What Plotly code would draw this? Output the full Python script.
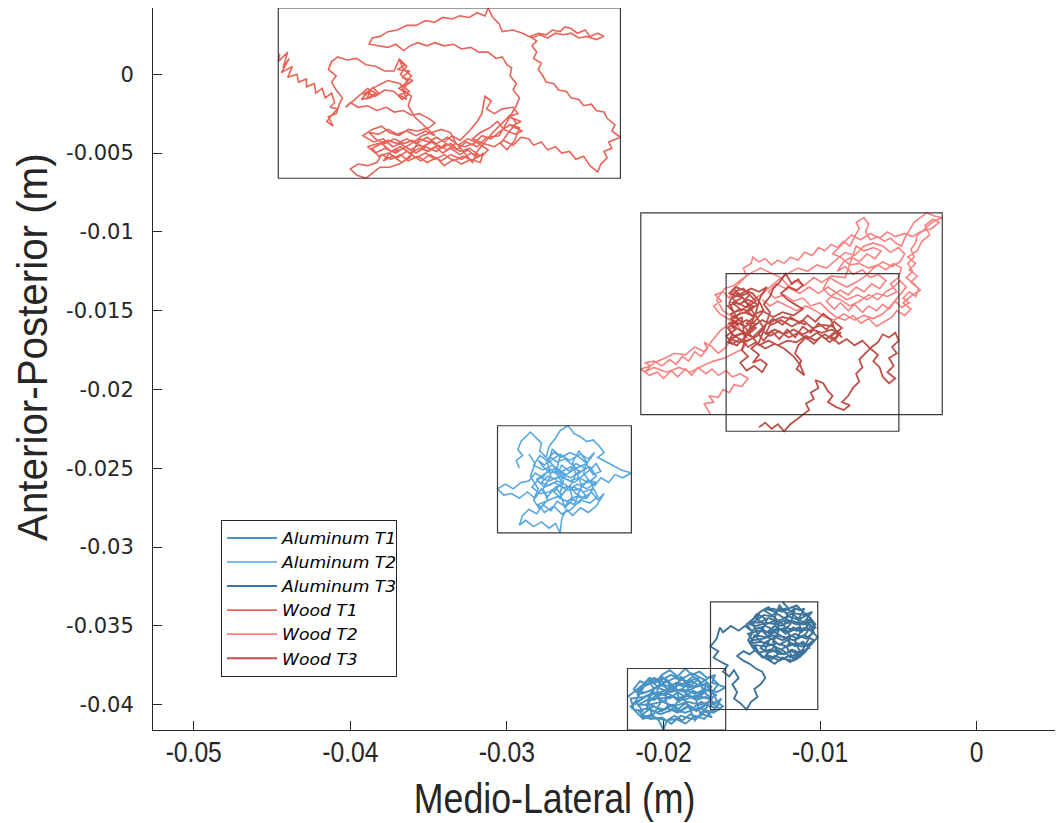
import plotly.graph_objects as go

# Centre-of-pressure traces, in millimetres (x = medio-lateral, y = anterior-posterior)
al_t1 = [(-22.3,-39.5),(-21.8,-39.1),(-21.4,-38.8),(-21.0,-38.4),(-20.5,-38.6),(-20.1,-38.1),(-19.6,-37.8),(-19.1,-38.2),(-18.6,-37.7),(-18.2,-38.1),(-17.7,-37.9),(-17.2,-38.3),(-16.7,-38.1),(-16.9,-38.6),(-16.03,-38.9),(-16.6,-39.2),(-17.1,-39.0),(-17.6,-39.4),(-18.1,-39.1),(-18.6,-39.5),(-19.1,-39.2),(-19.6,-39.6),(-20.1,-39.3),(-20.6,-39.7),(-21.1,-39.4),(-21.6,-39.8),(-22.1,-40.1),(-21.7,-40.5),(-21.3,-40.9),(-20.8,-40.6),(-20.3,-41.0),(-20.0,-41.6),(-19.8,-41.0),(-19.3,-40.7),(-18.8,-41.0),(-18.3,-40.6),(-17.8,-40.8),(-17.3,-40.4),(-16.8,-40.5),(-16.2,-40.1),(-16.6,-39.8),(-17.1,-40.1),(-17.6,-39.8),(-18.1,-40.2),(-18.6,-39.9),(-19.1,-40.3),(-19.6,-40.0),(-20.1,-40.4),(-20.6,-40.1),(-21.1,-40.3),(-20.7,-39.0),(-20.2,-38.7),(-19.7,-39.0),(-19.2,-38.6),(-18.7,-38.9),(-18.2,-38.5),(-17.7,-38.8),(-17.2,-38.6),(-17.5,-39.2),(-18.0,-39.6),(-18.5,-39.3),(-19.0,-39.8),(-19.5,-39.4),(-20.0,-39.8),(-20.5,-39.4),(-21.0,-39.9),(-20.4,-40.2),(-19.9,-40.3),(-19.4,-40.0),(-18.9,-40.4),(-18.4,-40.1),(-17.9,-40.4),(-17.4,-40.1),(-16.9,-39.6),(-17.3,-39.3),(-17.8,-38.4),(-18.3,-38.8),(-18.8,-38.3),(-19.3,-38.9),(-19.8,-38.4),(-20.3,-38.9),(-20.8,-38.5),(-21.3,-38.9),(-21.7,-39.4),
 (-20.9,-38.3),(-20.3,-38.5),(-19.5,-38.1),(-18.9,-38.4),(-18.2,-38.0),(-17.4,-38.4),(-16.9,-38.9),(-17.6,-38.7),(-18.4,-38.9),(-19.0,-38.6),(-19.8,-38.8),(-20.5,-38.5),(-21.2,-38.8),(-21.8,-39.2),(-21.1,-39.2),(-20.4,-38.9),(-19.6,-39.2),(-18.8,-39.0),(-18.0,-39.3),(-17.3,-39.0),(-16.6,-39.4),(-17.2,-39.6),(-17.9,-39.4),(-18.7,-39.7),(-19.4,-39.5),(-20.2,-39.6),(-20.9,-39.6),(-21.6,-40.0),(-20.9,-40.0),(-20.1,-39.8),(-19.3,-40.1),(-18.5,-39.8),(-17.7,-40.0),(-17.0,-39.8),(-16.4,-40.3),(-17.1,-40.4),(-17.8,-40.2),(-18.6,-40.5),(-19.4,-40.3),(-20.2,-40.6),(-20.9,-40.3),(-21.5,-40.7),(-20.8,-40.9),(-20.1,-40.8),(-19.5,-41.2),(-18.9,-40.7),(-18.2,-40.9),(-17.5,-40.6),(-16.9,-40.8),(-17.4,-40.3),
 (-18.0,-41.0),(-18.3,-40.3),(-18.7,-39.6),(-18.4,-38.9),(-18.9,-38.2),(-19.2,-38.9),(-19.0,-39.7),(-19.6,-40.4),(-19.9,-39.6),(-19.6,-38.7),(-20.1,-38.2),(-20.4,-39.1),(-20.2,-39.9),(-20.7,-40.7),(-21.0,-39.8),(-20.6,-39.0),(-21.0,-38.4),(-21.4,-39.1),(-21.8,-39.8),(-21.3,-40.4),(-21.9,-40.3),(-22.1,-39.6),(-21.2,-39.5),(-19.9,-39.1),(-18.6,-38.6),(-17.8,-38.3),(-17.5,-39.0),(-17.9,-39.8),(-17.6,-40.7),(-17.2,-40.1),(-16.9,-39.2),(-16.5,-38.7),
 (-17.0,-38.2),(-17.6,-38.6),(-18.1,-38.2),(-18.5,-38.5),(-19.3,-38.3),(-19.9,-38.6),(-20.6,-38.3),(-21.0,-38.7),(-21.5,-38.5),(-21.9,-39.0),(-21.4,-39.3),(-20.8,-39.1),(-20.3,-39.4),(-19.7,-39.3),(-19.1,-39.6),(-18.5,-39.4),(-17.9,-39.7),(-17.3,-39.5),(-16.7,-39.9),(-16.3,-39.6),(-16.7,-40.2),(-17.3,-40.0),(-17.9,-40.3),(-18.5,-40.1),(-19.1,-40.5),(-19.8,-40.2),(-20.4,-40.5),(-21.0,-40.2),(-21.6,-40.4),(-21.2,-40.7),(-20.5,-40.8),(-19.9,-41.0),(-19.2,-40.9),(-18.6,-41.2),(-18.0,-40.7),(-17.4,-40.9),(-16.9,-40.4),(-16.5,-40.0),(-16.9,-39.1),(-17.4,-38.7),(-18.0,-38.9),(-18.6,-39.2),(-19.3,-39.0),(-20.0,-39.3),(-20.7,-39.2),(-21.3,-39.6),(-21.9,-39.9),(-22.0,-40.3)]

al_t2 = [(-29.2,-25.0),(-29.4,-24.5),(-29.0,-24.2),(-29.3,-23.8),(-29.1,-23.3),(-28.8,-23.0),(-28.5,-22.7),(-28.2,-23.0),(-27.8,-23.4),(-27.9,-23.9),(-27.5,-24.3),(-27.3,-23.6),(-26.9,-23.1),(-26.6,-22.6),(-26.1,-22.3),(-25.7,-22.8),(-25.3,-23.0),(-24.9,-23.3),(-24.5,-23.2),(-24.1,-23.6),(-23.8,-24.0),(-24.2,-24.3),(-23.6,-24.6),(-23.2,-24.8),(-22.7,-25.1),(-22.05,-25.3),(-22.6,-25.6),(-23.1,-25.4),(-23.5,-25.9),(-24.0,-25.6),(-24.4,-26.1),(-24.8,-25.7),(-25.2,-26.2),(-25.5,-25.4),(-25.0,-25.0),(-25.6,-24.7),(-26.0,-25.2),(-26.5,-24.8),(-26.8,-25.4),(-27.3,-25.0),(-27.7,-25.6),(-28.2,-25.3),(-28.6,-25.8),(-29.1,-25.9),(-29.6,-26.3),(-30.1,-26.0),(-30.6,-26.3),(-30.2,-26.7),(-29.7,-26.6),(-29.2,-26.9),(-28.7,-26.5),(-28.2,-26.9),(-27.8,-26.3),(-27.4,-26.8),(-26.9,-26.2),(-26.5,-26.7),(-26.0,-26.1),(-25.6,-26.6),(-25.1,-26.9),(-24.6,-26.5),(-24.2,-27.0),(-23.8,-26.6),(-24.3,-27.4),(-24.8,-27.8),(-25.3,-27.5),(-25.8,-28.0),(-26.2,-27.6),(-26.5,-28.2),(-26.6,-29.1),(-26.9,-28.5),(-27.3,-28.8),(-27.8,-28.4),(-28.3,-28.7),(-28.8,-28.3),(-29.2,-28.6),(-29.0,-28.0),(-28.6,-27.6),(-28.1,-27.9),(-27.7,-27.3),(-27.2,-27.7),(-26.8,-27.1),(-26.3,-27.4),(-25.9,-26.9),(-25.4,-27.2),(-25.0,-26.7),(-25.3,-26.3),(-25.8,-26.4),(-26.3,-26.0),(-26.8,-25.8),(-27.3,-26.1),(-27.8,-25.9),(-27.4,-25.5),(-26.9,-25.7),(-26.4,-25.4),(-25.9,-25.6),(-25.4,-25.2),(-25.8,-24.8),(-26.3,-24.4),(-26.8,-24.6),(-27.2,-24.3),(-27.6,-24.8),(-28.0,-24.5),(-27.7,-24.9),(-27.2,-25.3),(-26.7,-25.1),(-26.2,-25.7),(-25.7,-25.9),(-25.2,-25.5),(-24.7,-25.1),(-24.3,-24.7),(-24.0,-25.2),(-24.5,-25.4),(-25.0,-24.6),(-25.5,-24.2),(-26.0,-24.0),(-26.5,-24.3),(-27.0,-24.0),(-27.4,-24.4),(-27.0,-24.9),(-26.5,-25.9),(-27.0,-26.5),(-26.4,-27.0),(-25.7,-27.3),(-25.2,-26.0),(-24.6,-25.8),
 (-24.3,-25.9),(-24.9,-26.3),(-25.5,-26.0),(-26.1,-26.4),(-26.7,-26.1),(-27.3,-26.5),(-27.9,-26.6),(-28.4,-26.2),(-27.9,-25.6),(-27.3,-25.8),(-26.6,-25.5),(-26.0,-25.8),(-25.4,-25.6),(-24.8,-25.9),(-24.3,-25.5),(-24.7,-24.9),(-25.3,-25.2),(-25.9,-24.9),(-26.5,-25.2),(-27.1,-24.8),(-27.7,-25.1),(-28.3,-24.8),(-27.9,-24.2),(-27.3,-24.6),(-26.6,-24.1),(-26.0,-24.5),(-25.3,-24.1),(-24.8,-24.4),(-24.4,-24.0),(-24.9,-24.7),(-25.6,-25.0),(-26.2,-25.4),(-26.9,-25.0),(-27.5,-25.3),(-28.1,-25.7),(-27.6,-26.2),(-27.0,-25.9),(-26.4,-26.2),(-25.7,-26.2),(-25.1,-26.5),(-24.5,-26.3),(-24.9,-26.9),(-25.6,-26.8),(-26.2,-27.1),(-26.8,-26.8),(-27.5,-27.1),(-28.0,-27.3),(-27.6,-27.8),(-27.0,-27.4),(-26.5,-27.9),(-25.9,-27.6),(-25.3,-27.0),(-24.7,-27.2),(-24.2,-26.8),
 (-24.6,-26.0),(-25.1,-25.3),(-24.9,-24.6),(-25.4,-23.9),(-25.8,-24.6),(-25.6,-25.4),(-26.0,-26.2),(-25.8,-27.0),(-26.3,-27.5),(-26.6,-26.6),(-26.4,-25.8),(-26.8,-25.0),(-26.6,-24.2),(-27.1,-23.8),(-27.4,-24.7),(-27.2,-25.5),(-27.7,-26.3),(-27.4,-27.0),(-27.9,-27.6),(-28.3,-27.0),(-28.0,-26.3),(-28.5,-25.5),(-28.2,-24.7),(-28.6,-24.1)]

al_t3 = [(-12.4,-33.47),(-12.0,-33.9),(-11.5,-33.7),(-11.1,-34.1),(-10.7,-34.4),(-10.3,-34.9),(-10.6,-35.3),(-10.15,-35.7),(-10.5,-36.1),(-10.9,-36.5),(-11.4,-36.9),(-11.9,-37.3),(-12.4,-37.0),(-12.9,-37.4),(-13.4,-37.1),(-13.9,-36.8),(-14.3,-36.4),(-14.6,-35.9),(-14.3,-35.4),(-14.7,-34.9),(-14.2,-34.5),(-13.8,-34.1),(-13.3,-33.8),(-12.8,-34.2),(-12.3,-34.5),(-11.8,-34.2),(-11.3,-34.6),(-10.8,-35.0),(-11.2,-35.4),(-11.7,-35.1),(-12.2,-35.5),(-12.7,-35.1),(-13.2,-35.5),(-13.7,-35.2),(-14.1,-35.7),(-13.6,-36.1),(-13.1,-35.8),(-12.6,-36.2),(-12.1,-35.9),(-11.6,-36.3),(-11.1,-36.0),(-10.7,-36.4),(-11.3,-36.7),(-11.8,-36.5),(-12.3,-36.8),(-12.8,-36.5),(-13.3,-36.7),(-13.8,-36.4),(-13.4,-36.0),(-12.9,-35.7),(-12.4,-35.9),(-11.9,-35.6),(-11.4,-35.8),(-10.9,-35.5),(-10.6,-35.0),(-11.0,-34.7),(-11.5,-34.9),(-12.0,-34.7),(-12.5,-35.0),(-13.0,-34.7),(-13.5,-34.9),(-14.0,-34.6),(-13.6,-34.3),(-13.1,-34.4),(-12.6,-33.9),(-12.1,-34.2),(-11.6,-33.9),(-11.9,-34.9),(-12.4,-35.3),(-12.9,-35.0),(-13.4,-35.4),(-13.9,-35.1),(-14.4,-35.3),
 (-14.8,-35.0),(-15.2,-35.3),(-15.7,-35.0),(-16.2,-35.4),(-16.4,-35.1),(-16.6,-35.8),(-17.0,-36.3),(-16.5,-36.6),(-16.8,-37.0),(-16.3,-37.3),(-15.9,-37.5),(-16.2,-37.9),(-15.8,-38.2),(-15.5,-37.8),(-15.2,-38.3),(-15.6,-38.7),(-15.3,-39.2),(-15.5,-39.6),(-15.1,-39.9),(-14.7,-40.3),(-14.4,-39.8),(-14.0,-39.5),(-14.2,-39.0),(-13.8,-38.7),(-13.5,-38.3),(-13.7,-37.9),(-14.1,-37.7),(-14.5,-37.4),(-14.9,-37.2),(-15.3,-36.9),(-14.9,-36.6),(-14.5,-36.8),(-14.1,-36.5),
 (-13.7,-37.0),(-13.2,-36.9),(-12.6,-37.2),(-12.0,-36.9),(-11.5,-37.1),(-11.0,-36.7),(-10.6,-36.2),(-11.2,-36.3),(-11.8,-36.1),(-12.5,-36.5),(-13.1,-36.2),(-13.8,-36.0),(-14.4,-36.1),(-14.2,-35.6),(-13.5,-35.7),(-12.9,-35.4),(-12.2,-35.8),(-11.6,-35.5),(-10.9,-35.8),(-10.4,-35.4),(-10.9,-35.1),(-11.5,-35.3),(-12.2,-35.1),(-12.8,-35.3),(-13.5,-35.0),(-14.1,-35.2),(-14.5,-34.7),(-13.9,-34.8),(-13.3,-34.5),(-12.7,-34.7),(-12.0,-34.4),(-11.4,-34.6),(-10.8,-34.3),(-10.5,-34.7),(-11.1,-34.9),(-11.7,-34.7),(-12.4,-34.9),(-13.1,-34.3),(-13.6,-34.0),(-13.0,-33.9),(-12.4,-34.1),(-11.8,-33.8),(-11.3,-34.0),(-11.0,-33.9),
 (-11.4,-34.6),(-11.2,-35.3),(-11.6,-36.0),(-11.3,-36.6),(-11.7,-37.1),(-12.1,-36.4),(-11.9,-35.7),(-12.3,-35.0),(-12.1,-34.3),(-12.6,-33.7),(-12.9,-34.5),(-12.6,-35.2),(-13.0,-36.0),(-12.7,-36.8),(-13.2,-37.2),(-13.5,-36.5),(-13.2,-35.8),(-13.7,-35.3),(-13.4,-34.6),(-13.9,-34.3),(-14.3,-34.9),(-14.0,-35.5),(-14.5,-36.0),(-14.0,-36.6),(-13.6,-37.0),(-12.9,-36.3),(-12.3,-36.6),(-11.9,-37.0),(-11.1,-36.5),(-10.8,-35.9),(-10.4,-35.2),(-10.9,-34.6),(-10.5,-34.1),
 (-11.0,-34.3),(-11.6,-34.2),(-12.2,-33.9),(-12.9,-34.1),(-13.5,-33.9),(-14.1,-34.3),(-14.5,-34.9),(-14.1,-35.0),(-13.4,-34.8),(-12.8,-34.9),(-12.1,-34.6),(-11.4,-34.9),(-10.7,-34.6),(-10.3,-35.1),(-10.8,-35.3),(-11.4,-35.1),(-12.0,-35.4),(-12.6,-35.2),(-13.3,-35.4),(-13.9,-35.3),(-14.6,-35.5),(-14.3,-35.9),(-13.6,-35.8),(-13.0,-35.6),(-12.3,-35.7),(-11.7,-35.9),(-11.0,-35.6),(-10.4,-35.9),(-10.8,-36.2),(-11.5,-36.1),(-12.1,-36.3),(-12.8,-36.1),(-13.5,-36.3),(-14.2,-36.2),(-13.9,-36.7),(-13.2,-36.5),(-12.5,-36.8),(-11.8,-36.6),(-11.2,-36.9),(-11.7,-37.2),(-12.3,-37.1),(-12.9,-36.9),(-13.5,-37.1)]

wood_t1 = [(-44.5,1.3),(-44.6,0.8),(-44.0,1.4),(-44.3,0.4),(-43.9,1.0),(-44.4,0.1),(-43.7,0.5),(-44.0,-0.2),(-43.4,0.0),(-43.3,-0.5),(-42.8,-0.3),(-42.8,-0.8),(-42.3,-0.6),(-42.2,-1.2),(-41.8,-0.9),(-41.6,-1.5),(-41.2,-1.2),(-41.0,-1.8),(-41.3,-2.1),(-40.8,-2.2),(-41.2,-2.6),(-41.5,-3.0),(-41.1,-3.3),(-41.4,-2.7),(-40.9,-2.5),(-40.7,-1.9),
 (-40.5,-1.5),(-40.9,-1.0),(-41.2,-0.5),(-40.9,-0.1),(-41.4,0.3),(-41.2,0.8),(-40.8,1.1),(-40.2,0.9),(-39.6,1.0),(-39.0,0.6),(-38.4,0.5),(-37.8,0.2),(-37.2,0.2),(-36.9,0.9),(-36.5,0.6),(-37.0,0.3),(-36.2,0.2),(-36.7,-0.2),(-36.0,-0.4),(-36.6,-0.8),(-36.2,-1.1),(-36.9,-1.3),(-36.4,-1.6),(-36.8,-0.6),(-37.6,-0.4),(-38.2,-0.7),(-38.6,-0.9),(-39.2,-1.3),(-38.7,-1.1),(-39.0,-1.6),(-38.4,-1.2),(-38.9,-0.9),(-39.6,-1.5),(-40.3,-2.1),
 (-40.0,-1.8),(-39.5,-2.1),(-38.9,-2.0),(-38.3,-2.3),(-37.7,-2.1),(-37.2,-2.4),(-36.6,-2.3),(-36.1,-2.6),(-35.6,-2.5),(-35.0,-2.8),(-34.6,-3.1),
 (-35.0,-3.4),(-35.7,-3.6),(-36.3,-3.5),(-36.9,-3.9),(-37.5,-3.7),(-38.0,-3.3),(-38.6,-3.5),(-39.2,-3.9),(-38.5,-4.3),(-37.9,-4.1),(-37.3,-4.6),(-36.8,-4.4),(-36.2,-4.8),(-35.6,-4.5),(-35.1,-4.9),(-34.6,-4.6),(-34.1,-5.0),(-33.6,-4.7),(-33.0,-5.1),(-32.5,-4.8),(-31.9,-5.3),(-31.5,-5.0),(-31.7,-5.6),(-32.3,-5.4),(-32.9,-5.7),(-33.4,-5.4),(-34.0,-5.8),(-34.5,-5.3),(-35.1,-5.6),(-35.7,-5.2),(-36.3,-5.5),(-36.8,-5.1),(-37.4,-5.4),(-38.0,-5.1),(-38.3,-5.6),(-38.9,-5.8),(-39.5,-5.7),(-40.0,-6.0),(-39.6,-6.4),(-39.0,-6.6),(-38.5,-6.2),(-38.1,-5.9),(-37.5,-5.9),(-36.9,-5.7),(-36.2,-5.3),(-35.6,-4.1),(-35.0,-4.3),(-34.5,-4.0),(-34.0,-4.3),(-33.5,-3.9),(-33.0,-4.2),(-32.4,-3.6),(-31.9,-3.0),(-31.6,-2.5),(-31.4,-1.4),(-31.0,-1.7),(-31.3,-2.2),(-30.8,-2.5),(-30.3,-2.2),(-29.6,-2.1),(-29.3,-2.5),(-29.9,-2.7),(-29.1,-3.0),(-29.7,-3.3),(-29.0,-3.6),(-29.5,-3.8),(-30.2,-3.5),(-30.6,-3.0),(-31.1,-3.4),(-31.7,-3.7),(-32.2,-4.1),(-31.5,-4.4),(-30.8,-4.6),(-30.2,-4.2),(-29.6,-4.5),(-29.1,-4.0),
 (-28.6,-4.1),(-28.3,-4.5),(-27.8,-4.3),(-27.4,-4.8),(-26.9,-4.6),(-26.5,-5.0),(-26.0,-4.9),(-25.6,-5.4),(-25.1,-5.2),(-24.7,-5.8),(-24.2,-6.2),(-24.0,-5.7),(-23.6,-5.3),(-23.8,-4.9),(-23.3,-4.7),(-23.5,-4.3),(-22.75,-4.0),(-23.3,-3.6),(-23.1,-3.2),(-23.6,-2.8),(-23.8,-2.4),(-24.3,-2.3),(-24.6,-1.9),(-25.1,-2.0),(-25.4,-1.6),(-25.9,-1.5),(-26.2,-1.1),(-26.7,-1.0),(-27.0,-0.6),(-27.5,-0.5),(-27.7,-0.1),(-28.0,0.3),(-27.8,0.7),(-28.3,1.0),(-28.1,1.4),(-28.4,1.8),(-28.1,2.1),(-28.5,2.4),
 (-28.0,2.6),(-27.5,2.5),(-27.1,2.8),(-26.6,2.7),(-26.3,3.0),(-25.9,2.9),(-25.5,2.6),(-25.0,2.8),(-24.7,2.4),(-24.2,2.6),(-23.8,2.4),(-24.3,2.2),(-24.9,2.4),(-25.4,2.3),(-25.9,2.6),(-26.4,2.5),(-26.9,2.6),(-27.4,2.3),(-27.9,2.5),(-28.4,2.3),
 (-29.0,2.6),(-29.6,2.8),(-30.3,2.7),(-30.5,3.2),(-30.9,3.6),(-31.2,4.2),(-31.4,3.7),(-31.9,3.9),(-32.4,3.6),(-33.0,3.7),(-33.5,3.5),(-34.1,3.6),(-34.6,3.3),(-35.2,3.4),(-35.8,3.1),(-36.4,3.1),(-37.0,2.8),(-37.6,2.7),(-38.1,2.4),(-38.6,2.3),(-38.8,1.9),(-38.2,1.8),(-37.6,1.7),(-37.1,1.9),(-36.6,1.5),
 (-36.2,1.8),(-35.7,2.0),(-35.1,1.8),(-34.6,2.0),(-34.0,1.8),(-33.4,1.9),(-32.9,1.6),(-32.3,1.7),(-31.8,1.4),(-31.2,1.4),(-30.7,1.0),(-30.3,1.1),(-30.0,0.6),(-29.7,0.4),(-29.8,-0.1),(-29.4,-0.6),(-29.6,-1.0),(-29.2,-1.5),(-29.4,-2.0),
 (-30.5,-3.9),(-31.3,-4.0),(-31.9,-4.6),(-32.6,-4.3),(-33.2,-4.8),(-33.9,-4.4),(-34.5,-4.9),(-35.2,-4.6),(-35.8,-5.0),(-36.5,-4.6),(-37.1,-5.0),(-37.8,-4.7),(-38.4,-5.0),(-38.9,-4.6),(-38.3,-4.4),(-37.6,-4.2),(-37.0,-4.4),(-36.4,-4.1),(-35.8,-4.4),(-35.1,-4.0),(-34.5,-4.4),(-33.8,-4.0),(-33.1,-4.5),(-32.5,-4.1),(-31.8,-4.4),(-31.2,-4.8),(-31.6,-5.2),(-32.3,-5.0),(-32.9,-5.4),(-33.6,-5.1),(-34.2,-5.5),(-34.9,-5.1),(-35.5,-5.5),(-36.1,-5.1),(-36.7,-5.6),(-37.3,-5.2),(-37.9,-5.5),(-37.4,-4.9),(-36.8,-4.8),(-36.1,-4.4),(-35.4,-3.9),(-34.8,-3.7),(-34.2,-3.5),(-33.6,-3.7),(-33.3,-4.3),(-32.8,-4.9),(-32.2,-5.6),(-31.9,-4.9),(-31.4,-4.3),(-30.9,-3.7),(-30.3,-3.1),(-29.8,-2.6),(-29.4,-3.1),(-29.9,-3.7),(-30.4,-4.4),(-30.0,-4.8),(-29.5,-4.2),(-29.2,-3.4),
 (-29.8,-3.2),(-30.4,-3.6),(-31.0,-4.1),(-31.6,-3.9),(-32.1,-4.4),(-32.7,-4.6),(-33.3,-4.4),(-33.8,-4.8),(-34.4,-4.5),(-35.0,-4.9),(-35.6,-4.7),(-36.2,-5.0),(-36.8,-4.6),(-37.4,-4.9),(-38.0,-4.4),(-38.6,-4.7),(-38.2,-5.2),(-37.6,-5.0),(-37.0,-5.3),(-36.4,-4.9),(-35.8,-5.3),(-35.2,-5.0),(-34.6,-5.4),(-34.0,-5.1),(-33.4,-5.5),(-32.8,-5.2),(-32.2,-5.5),(-31.8,-5.1),(-32.4,-4.7),(-33.0,-4.9),(-33.6,-4.4),(-34.2,-4.7),(-34.8,-4.3),(-35.4,-4.6),(-36.0,-4.2),(-36.6,-4.4),(-37.2,-4.1),(-37.8,-4.4),(-38.4,-4.1),(-38.8,-3.7),(-38.2,-3.8),(-37.6,-3.5),(-37.0,-3.8),(-36.4,-3.6),(-35.8,-3.9),(-35.2,-3.6),(-34.6,-3.9),
 (-35.4,-3.2),(-35.9,-2.7),(-36.3,-2.0),(-36.1,-1.4),(-36.6,-1.0),(-36.3,-0.5),(-36.8,0.0),(-36.4,0.5),(-36.9,1.0),(-36.6,0.3),(-36.1,-0.1),(-36.5,-0.6),(-36.9,-0.9),(-36.3,-1.3),(-36.7,-1.6),(-37.2,-1.1),(-37.8,-1.0),(-38.4,-1.4),(-38.9,-1.2),(-39.3,-1.6),(-38.7,-1.5),(-38.2,-1.2),(-38.6,-0.8)]

wood_t2 = [(-17.0,-21.6),(-17.4,-20.9),(-16.8,-20.8),(-17.1,-20.4),(-16.5,-20.5),(-16.2,-20.0),(-15.8,-20.2),(-15.5,-19.7),(-15.0,-19.8),(-14.6,-19.3),(-15.1,-19.0),(-15.6,-19.2),(-16.0,-18.8),(-16.5,-19.1),(-16.9,-18.7),(-17.3,-19.0),(-17.8,-18.6),(-18.2,-19.1),(-18.6,-18.7),(-19.1,-19.2),(-19.5,-18.8),(-20.0,-19.3),(-20.4,-18.9),(-20.9,-19.1),(-21.45,-18.7),(-20.8,-18.5),(-21.2,-18.3),(-20.6,-18.2),(-20.1,-18.5),(-19.6,-18.1),(-19.2,-18.4),(-18.8,-17.9),(-18.4,-18.2),(-18.0,-17.6),(-17.6,-17.9),(-17.2,-17.4),(-17.4,-17.0),(-16.9,-17.3),(-16.5,-17.7),(-16.1,-17.4),(-15.8,-17.0),(-15.5,-16.6),(-15.8,-16.2),(-15.3,-15.9),
 (-15.9,-15.5),(-16.4,-15.2),(-16.8,-14.7),(-16.3,-14.4),(-16.7,-14.0),(-16.2,-13.8),(-15.8,-14.2),(-15.5,-13.6),(-15.1,-13.2),(-14.7,-12.8),(-14.9,-12.3),(-14.4,-12.0),(-14.3,-11.6),(-13.9,-11.9),(-13.5,-11.7),(-13.1,-12.1),(-12.7,-11.8),(-12.3,-12.0),(-11.9,-11.6),(-11.4,-11.8),(-11.0,-11.3),(-10.5,-11.5),(-10.1,-11.0),(-9.7,-11.2),(-9.3,-10.8),(-8.9,-11.0),(-8.5,-10.6),(-8.1,-10.9),(-7.8,-10.3),(-7.5,-9.8),(-7.7,-9.4),(-7.2,-9.1),(-6.9,-9.5),(-7.1,-10.0),(-6.8,-10.5),(-6.3,-10.3),(-5.9,-10.6),(-5.5,-10.4),(-5.2,-10.7),(-4.8,-10.9),
 (-4.6,-10.4),(-4.3,-9.9),(-4.0,-9.4),(-3.6,-9.1),(-3.2,-8.8),(-2.7,-9.0),(-2.2,-9.1),(-2.7,-9.3),(-3.1,-9.6),(-3.4,-9.9),(-3.8,-10.2),(-3.9,-10.7),(-4.2,-11.1),(-4.0,-11.6),(-4.4,-12.0),(-4.1,-12.5),(-4.5,-12.9),(-4.0,-13.3),(-3.7,-13.6),(-3.9,-14.1),(-4.3,-13.8),(-4.7,-14.2),(-4.3,-14.5),(-4.8,-14.8),(-5.2,-14.4),(-5.6,-14.9),(-6.0,-14.6),
 (-6.4,-15.0),(-6.9,-14.7),(-7.3,-15.1),(-7.8,-14.6),(-8.2,-15.0),(-8.7,-14.5),(-9.1,-14.9),(-9.6,-14.4),(-9.2,-14.0),(-8.7,-13.7),(-8.2,-14.0),(-7.7,-13.5),(-7.2,-13.8),(-6.7,-13.3),(-6.2,-13.6),(-5.8,-13.1),(-6.3,-12.7),(-6.8,-12.9),(-7.3,-12.4),(-7.9,-12.7),(-8.4,-12.2),(-8.9,-12.5),(-8.5,-11.9),(-8.0,-11.6),(-7.5,-11.9),(-7.0,-11.4),(-6.5,-11.7),(-6.1,-11.2),(-6.6,-11.0),(-7.2,-11.2),(-7.7,-10.9),
 (-8.4,-12.9),(-9.3,-12.8),(-9.9,-13.2),(-10.4,-12.9),(-11.0,-13.4),(-11.6,-13.1),(-12.2,-13.6),(-12.8,-13.3),(-13.3,-13.8),(-12.9,-14.2),(-12.3,-14.0),(-11.7,-14.4),(-11.1,-14.2),(-10.6,-14.7),(-10.0,-14.5),(-9.5,-15.0),(-9.0,-15.4),(-8.4,-15.6),(-7.9,-15.3),(-7.4,-15.8),(-6.9,-15.5),(-6.4,-16.0),(-5.9,-15.7),(-5.4,-15.4),(-5.1,-15.0),
 (-4.6,-15.3),(-4.2,-14.9),(-4.7,-14.5),(-4.1,-14.0),(-3.6,-13.7),(-4.2,-13.2),(-3.8,-12.8),(-4.3,-12.4),(-3.9,-12.0),(-4.4,-11.6),(-3.8,-11.2),(-3.5,-10.6),(-3.0,-10.2),(-3.3,-9.6),(-2.8,-9.2),(-2.4,-9.4),(-2.9,-9.8),(-3.6,-10.0),(-4.1,-10.3),(-4.6,-10.1),(-5.2,-10.3),(-5.7,-10.0),(-6.2,-10.4),(-6.8,-10.1),(-7.4,-10.5),(-8.0,-10.2),(-8.6,-10.8),(-9.2,-11.4),(-8.7,-11.6),(-8.1,-12.1),(-7.5,-12.0),(-6.9,-12.3),(-6.3,-12.1),(-5.8,-12.4),(-5.3,-12.0),(-4.8,-12.3),(-5.0,-12.9),(-5.5,-13.3),(-5.1,-13.8),(-5.7,-14.1),(-6.4,-13.9),(-7.0,-14.3),(-7.6,-14.0),(-8.3,-14.3),(-8.9,-13.9),(-9.5,-13.5),(-10.1,-13.9),(-10.7,-13.5),(-11.3,-13.9),(-11.9,-13.6),(-12.5,-12.9),(-13.2,-12.6),(-13.8,-12.3),(-14.4,-12.6),(-15.0,-13.0),(-15.5,-13.4),(-16.1,-13.6),(-16.6,-14.3),(-16.2,-15.0),(-15.6,-15.4),(-15.1,-16.2),(-14.6,-16.8),(-14.9,-17.4),(-15.5,-17.7),(-16.1,-18.0),(-16.8,-18.2),(-17.5,-18.5),(-18.3,-18.9),(-19.0,-18.6),(-19.8,-18.9),(-20.6,-18.6),(-21.2,-18.9),
 (-20.6,-18.3),(-19.9,-18.0),(-19.3,-17.7),(-18.6,-17.8),(-18.0,-17.3),(-17.4,-17.6),(-16.9,-16.9),(-16.4,-16.3),(-15.9,-15.9),(-15.4,-15.4),(-14.9,-14.9),(-14.4,-14.4),(-13.8,-14.0),(-13.2,-13.5),(-12.6,-13.0),(-12.0,-12.6),(-11.4,-12.3),(-10.8,-12.5),(-10.2,-12.1),(-9.6,-12.3),(-9.0,-11.8),(-8.4,-11.3),(-7.8,-11.5),(-7.2,-10.9),(-6.6,-10.7),(-6.0,-10.9),(-5.5,-11.3),(-5.0,-11.0),(-4.6,-11.4),(-4.9,-11.9),(-5.4,-12.2),(-6.0,-11.9),(-6.6,-12.3),(-7.1,-12.8),(-7.7,-13.2),(-8.3,-13.5),(-8.9,-13.2),(-9.4,-12.9),(-9.8,-13.6),(-9.3,-14.1),(-8.7,-14.3),(-8.1,-14.7),(-7.5,-14.4),(-6.9,-14.0),(-6.3,-14.3),(-5.8,-13.8),(-5.3,-13.5),(-4.9,-13.1),(-4.5,-13.5),(-4.9,-14.0),(-5.4,-14.6),(-6.0,-15.2),(-6.6,-15.5),(-7.2,-15.3),(-7.8,-15.6),(-8.5,-15.2),(-9.1,-15.6),(-9.7,-15.4),(-10.3,-15.0),(-10.9,-14.7),(-11.5,-15.0),(-12.1,-14.7),(-12.7,-14.4),(-13.2,-14.7),(-13.7,-14.3)]

wood_t3 = [(-13.9,-22.4),(-13.5,-22.1),(-13.1,-22.5),(-12.7,-22.2),(-12.3,-22.65),(-11.9,-22.2),(-11.5,-21.9),(-11.1,-21.6),(-10.7,-21.3),(-10.9,-20.9),(-10.4,-20.6),(-10.6,-20.2),(-10.1,-19.9),(-10.3,-19.4),(-9.8,-19.6),(-9.5,-20.1),(-9.2,-20.4),(-9.5,-20.8),(-9.0,-21.1),(-8.5,-21.3),(-8.1,-21.0),(-8.6,-20.8),(-8.2,-20.4),(-7.9,-19.9),(-7.5,-19.5),(-7.7,-19.0),(-7.3,-18.6),(-7.5,-18.1),(-7.1,-17.7),(-6.7,-17.3),(-6.3,-17.0),(-6.0,-16.5),(-5.6,-16.7),(-5.2,-16.4),(-4.97,-16.9),(-5.4,-17.3),(-5.1,-17.7),(-5.6,-18.0),(-5.3,-18.5),(-5.7,-18.9),(-5.2,-19.3),(-5.6,-19.6),(-6.0,-19.2),(-6.2,-18.6),(-6.6,-18.2),(-6.3,-17.8),(-6.8,-17.4),(-7.3,-16.9),(-7.8,-17.2),(-8.3,-16.8),(-8.8,-17.1),(-9.3,-16.6),
 (-8.6,-16.1),(-9.1,-15.7),(-9.6,-16.2),(-10.1,-15.8),(-10.6,-16.4),(-11.1,-16.0),(-11.6,-16.7),(-12.1,-16.2),(-12.6,-16.8),(-13.1,-16.3),(-13.6,-16.9),(-14.0,-16.4),(-13.5,-15.9),(-13.0,-15.5),(-12.4,-15.9),(-11.9,-15.4),(-11.3,-15.8),(-10.8,-15.3),(-10.3,-15.7),(-9.8,-15.2),(-9.3,-15.6),(-8.9,-16.6),(-9.4,-17.0),(-9.9,-16.6),(-10.4,-17.1),(-10.9,-16.7),(-11.4,-17.2),(-11.6,-17.7),(-11.2,-18.2),(-11.5,-18.7),(-11.0,-19.1),(-11.3,-18.4),(-11.7,-17.9),
 (-12.3,-17.4),(-12.9,-17.1),(-13.5,-17.4),(-14.1,-17.0),(-14.6,-17.3),(-15.1,-16.8),(-15.6,-17.1),(-16.0,-16.6),(-15.4,-16.2),(-15.8,-15.8),(-15.2,-15.6),(-15.7,-15.2),(-15.1,-14.9),(-15.6,-14.5),(-15.0,-14.2),(-15.5,-13.8),(-14.9,-13.6),(-14.5,-14.0),(-14.9,-14.4),(-14.3,-14.7),(-14.8,-15.1),(-14.2,-15.4),(-14.7,-15.8),(-14.1,-16.1),(-14.6,-16.5),(-15.2,-16.2),(-15.6,-15.9),(-15.0,-15.4),
 (-14.8,-16.9),(-15.0,-17.5),(-14.6,-17.9),(-15.1,-18.3),(-14.7,-18.8),(-14.2,-18.5),(-13.7,-18.9),(-13.4,-18.4),(-13.8,-18.1),(-14.3,-18.3),(-13.9,-17.8),(-14.4,-17.4),(-13.9,-17.0),
 (-13.5,-16.0),(-13.2,-15.1),(-13.6,-14.6),(-13.2,-14.1),(-13.0,-13.6),(-12.6,-13.2),(-12.2,-12.65),(-11.8,-13.3),(-11.4,-13.0),(-11.1,-13.4),(-11.5,-13.7),(-12.0,-13.5),(-12.5,-13.9),(-12.1,-14.3),(-11.6,-14.6),(-11.1,-14.9),
 (-11.7,-15.3),(-12.4,-15.1),(-13.0,-15.4),(-13.7,-15.0),(-14.3,-15.3),(-14.9,-14.9),(-15.5,-15.1),(-15.9,-14.7),(-15.3,-14.5),(-14.7,-14.8),(-14.1,-14.4),(-14.6,-13.9),(-15.2,-14.1),(-15.8,-13.9),(-15.4,-13.5),(-14.8,-13.7),(-14.3,-13.9),(-13.9,-14.4),(-13.6,-15.0),(-14.2,-15.7),(-14.8,-16.0),(-15.4,-15.7),(-15.9,-16.1),(-15.5,-16.6),(-14.9,-16.4),(-14.3,-16.7),(-13.8,-16.2),(-13.2,-16.6),(-12.6,-16.3),(-12.0,-16.7),(-11.4,-16.4),(-10.8,-16.8),(-10.2,-16.4),(-9.6,-16.8),(-9.0,-16.3),(-8.6,-16.7),(-9.2,-16.0),(-9.8,-15.9),(-10.5,-16.1),(-11.1,-15.6),(-11.8,-16.0),(-12.5,-15.6),(-13.1,-15.9),(-13.7,-15.6),(-14.3,-16.0),(-15.0,-16.9),(-15.6,-16.5),(-15.9,-17.0),(-15.3,-17.2),(-14.7,-16.6),(-14.1,-15.1),(-13.8,-14.1),(-13.4,-13.5),
 (-13.9,-13.8),(-14.4,-13.6),(-15.0,-13.9),(-15.6,-14.2),(-15.2,-14.6),(-14.6,-14.3),(-14.0,-14.6),(-14.5,-15.0),(-15.1,-15.2),(-15.7,-15.5),(-15.3,-15.9),(-14.7,-15.6),(-14.1,-15.9),(-14.5,-16.3),(-15.1,-16.5),(-15.7,-16.8),(-15.2,-17.0),(-14.6,-16.9),(-14.0,-16.6),(-13.6,-16.1),(-14.0,-15.5),(-14.4,-14.9),(-14.9,-14.2),(-15.4,-13.7),(-15.8,-14.5),(-15.4,-15.3),(-14.9,-15.9),(-14.4,-16.6),(-13.9,-17.2),(-13.3,-16.9),(-12.7,-17.2),(-12.1,-16.9),(-11.5,-17.0),(-10.9,-16.6),(-10.3,-16.9),(-9.7,-16.5),(-9.1,-16.9),(-8.7,-16.4),(-9.3,-16.2),(-9.9,-16.4),(-10.5,-16.2),(-11.1,-16.5),(-11.7,-16.2),(-12.3,-16.5),(-12.9,-16.2),(-13.5,-16.5),(-13.1,-15.7),(-12.4,-15.4),(-11.6,-15.6),(-10.9,-15.9)]

names = ["Aluminum T1", "Aluminum T2", "Aluminum T3", "Wood T1", "Wood T2", "Wood T3"]
traces_mm = [al_t1, al_t2, al_t3, wood_t1, wood_t2, wood_t3]
colors = ["#2A7FBA", "#3A98DC", "#1B5C8A", "#E5483B", "#FB6B6B", "#B3312A"]
widths = [1.9, 1.6, 1.9, 1.6, 1.6, 1.8]

x_ticks = [-0.05, -0.04, -0.03, -0.02, -0.01, 0]
x_tick_text = ["-0.05", "-0.04", "-0.03", "-0.02", "-0.01", "0"]
y_ticks = [0, -0.005, -0.01, -0.015, -0.02, -0.025, -0.03, -0.035, -0.04]
y_tick_text = ["0", "-0.005", "-0.01", "-0.015", "-0.02", "-0.025", "-0.03", "-0.035", "-0.04"]
x_title = "Medio-Lateral (m)"
y_title = "Anterior-Posterior (m)"

fig = go.Figure()
all_y = []
for name, pts, col, w in zip(names, traces_mm, colors, widths):
    xs = [p[0] / 1000 for p in pts]
    ys = [p[1] / 1000 for p in pts]
    all_y += ys
    fig.add_trace(go.Scatter(x=xs, y=ys, mode="lines", name=name,
                             line=dict(color=col, width=w), opacity=0.85))
    fig.add_shape(type="rect", xref="x", yref="y",
                  x0=min(xs), x1=max(xs), y0=min(ys), y1=max(ys),
                  line=dict(color="#3a3a3a", width=1.2), fillcolor="rgba(0,0,0,0)", layer="above")

axis_col = "#262626"
title_font = dict(family="Liberation Sans, Arial, sans-serif", color=axis_col)
fig.add_annotation(text=x_title, xref="paper", yref="paper", x=0.4446, y=-0.0942,
                   xanchor="center", yanchor="middle", showarrow=False,
                   font=dict(size=43, **title_font))
fig.add_annotation(text=y_title, xref="paper", yref="paper", x=-0.133, y=0.5305,
                   xanchor="center", yanchor="middle", showarrow=False, textangle=-90,
                   font=dict(size=42, **title_font))

fig.update_layout(
    width=1058, height=823,
    margin=dict(l=153, r=3, t=8, b=93),
    paper_bgcolor="white", plot_bgcolor="white",
    showlegend=True,
    legend=dict(x=0.0754, y=0.291, xanchor="left", yanchor="top",
                bgcolor="white", bordercolor=axis_col, borderwidth=1,
                font=dict(family="DejaVu Sans, sans-serif", size=16.2, style="italic", color="black"),
                tracegroupgap=0, itemwidth=50),
    xaxis=dict(range=[-0.0526, 0.005], tickvals=x_ticks, ticktext=x_tick_text,
               ticks="inside", ticklen=9, tickwidth=1, tickcolor=axis_col,
               showline=True, linecolor=axis_col, linewidth=1, mirror=False,
               showgrid=False, zeroline=False, ticklabelstandoff=-4,
               tickfont=dict(family="Liberation Sans, Arial, sans-serif", size=29, color=axis_col)),
    yaxis=dict(range=[min(all_y), max(all_y)], tickvals=y_ticks, ticktext=y_tick_text,
               ticks="inside", ticklen=9, tickwidth=1, tickcolor=axis_col,
               showline=True, linecolor=axis_col, linewidth=1, mirror=False,
               showgrid=False, zeroline=False, ticklabelstandoff=14,
               tickfont=dict(family="DejaVu Sans, sans-serif", size=21, color=axis_col)),
)

# the reference uses a condensed face for the x labels and both titles
post_js = """
document.body.style.margin='0';
var gd = document.getElementById('{plot_id}');
function fit(t, f){
  t.removeAttribute('textLength');
  var w = t.getComputedTextLength();
  if (w > 0) {
    t.setAttribute('textLength', (w * f).toFixed(1));
    t.setAttribute('lengthAdjust', 'spacingAndGlyphs');
  }
}
function squeeze(){
  var ann = gd.querySelectorAll('.annotation-text');
  if (ann.length > 0) fit(ann[0], 0.83);
  if (ann.length > 1) fit(ann[1], 0.96);
  gd.querySelectorAll('.xtick text').forEach(function(t){ fit(t, 0.85); });
  gd.querySelectorAll('.legendtext').forEach(function(t){ fit(t, 1.06); });
}
squeeze();
setTimeout(squeeze, 50);
"""

fig.write_html("out.html", config={"displayModeBar": False}, post_script=post_js)
